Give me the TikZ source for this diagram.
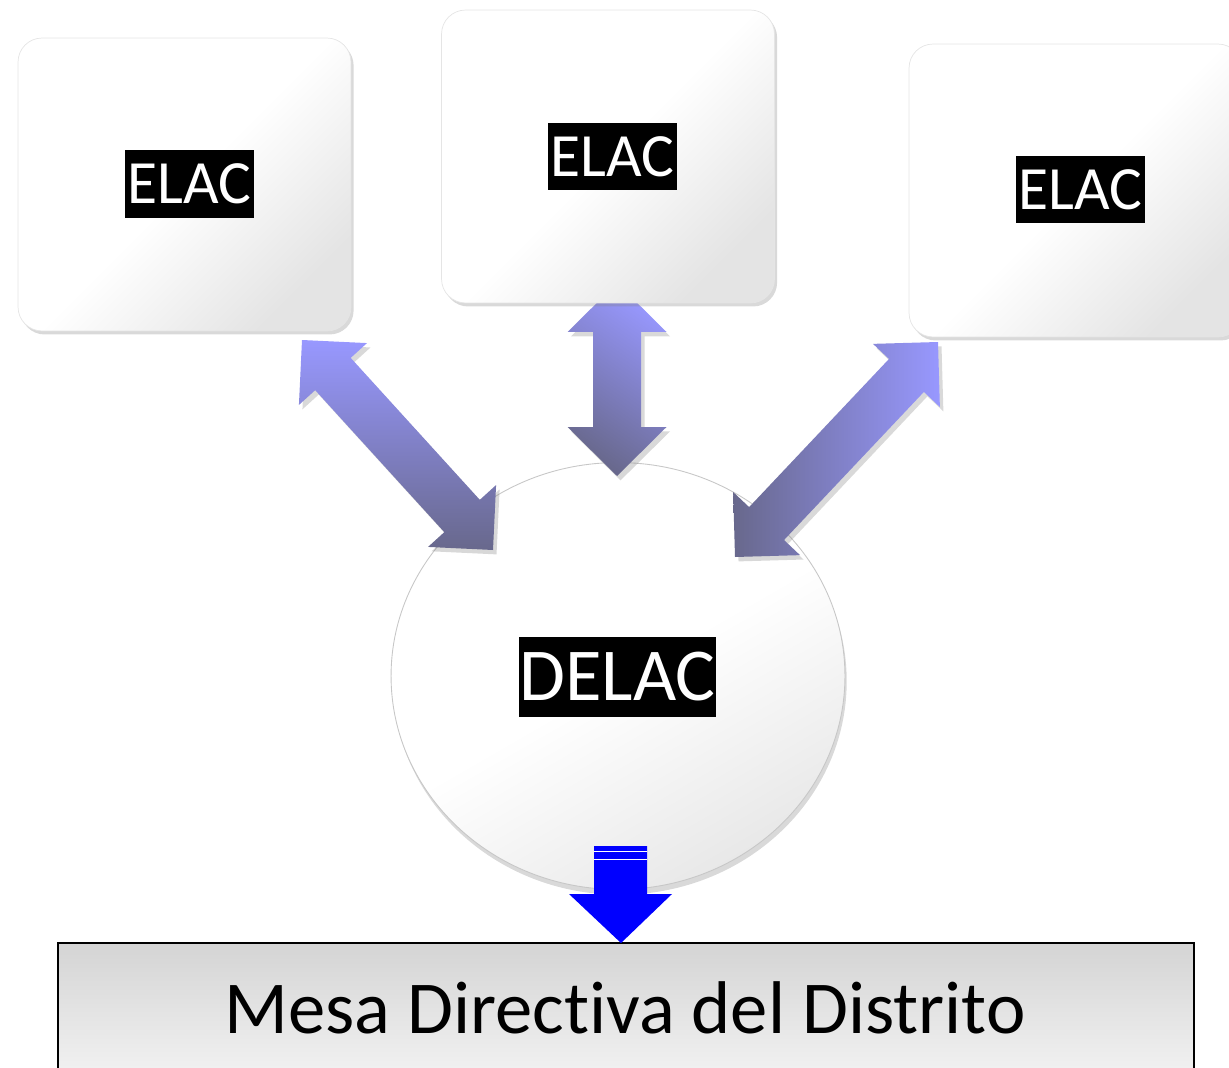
\documentclass[tikz,border=0pt]{standalone}
\usepackage{fontspec}
\setmainfont{Carlito}[Ligatures=CommonOff]
\usetikzlibrary{calc,shapes.geometric,shadows}
\definecolor{arLight}{RGB}{152,152,255}
\definecolor{arDark}{RGB}{104,104,140}
\definecolor{boxGray}{RGB}{228,228,228}
\definecolor{mesaTop}{RGB}{212,212,212}
\definecolor{mesaBot}{RGB}{248,248,248}
\newcommand\dblblock[6]{%
 \path[blockarrow, shading angle=#6] (#1)
 -- ($(#1)!#5!(#2)!#4!90:(#2)$)
 -- ($(#1)!#5!(#2)!#3!90:(#2)$)
 -- ($(#2)!#5!(#1)!#3!-90:(#1)$)
 -- ($(#2)!#5!(#1)!#4!-90:(#1)$)
 -- (#2)
 -- ($(#2)!#5!(#1)!#4!90:(#1)$)
 -- ($(#2)!#5!(#1)!#3!90:(#1)$)
 -- ($(#1)!#5!(#2)!#3!-90:(#2)$)
 -- ($(#1)!#5!(#2)!#4!-90:(#2)$)
 -- cycle;}
\tikzset{
 elacbox/.style={rectangle, rounded corners=0.48cm, minimum width=6.66cm, minimum height=5.86cm,
   inner sep=0pt, draw=black!10, line width=0.4pt, top color=white, bottom color=boxGray, middle color=white, shading angle=45,
   drop shadow={shadow xshift=1.5pt, shadow yshift=-2pt, opacity=0.3}},
 lbl/.style={fill=black, text=white, inner sep=0pt, font=\fontsize{35}{35}\selectfont,
   minimum width=2.58cm, minimum height=1.36cm},
 blockarrow/.style={top color=arLight, bottom color=arDark,
   drop shadow={shadow xshift=2pt, shadow yshift=-2.5pt, opacity=0.3}},
}
\begin{document}
\begin{tikzpicture}[x=0.02cm, y=-0.02cm]
\useasboundingbox (0,0) rectangle (1229,1067);
% bottom rectangle
\node[rectangle, draw=black, line width=1.1pt, top color=mesaTop, bottom color=mesaBot,
  minimum width=22.72cm, minimum height=3.2cm, inner sep=0pt] (mesa) at (626,1023) {};
\node[anchor=base, inner sep=0pt, font=\fontsize{42.5}{42.5}\selectfont] (mesaT) at (625,1033) {Mesa Directiva del Distrito};
% DELAC circle
\node[ellipse, draw=black!22, line width=0.5pt, minimum width=9.08cm, minimum height=8.54cm,
  inner sep=0pt, top color=white, bottom color=black!9, middle color=white, shading angle=30,
  drop shadow={shadow xshift=1pt, shadow yshift=-3pt, opacity=0.3}] (delac) at (618,676) {};
\node[lbl, font=\fontsize{42.5}{42.5}\selectfont, minimum width=3.94cm, minimum height=1.6cm] (delacT) at (617.5,677) {DELAC};
% double arrows
\coordinate (aL1) at (302,340);
\coordinate (aL2) at (493,550);
\coordinate (aM1) at (617,283);
\coordinate (aM2) at (617,476);
\coordinate (aR1) at (938,342);
\coordinate (aR2) at (735,557);
\dblblock{aL1}{aL2}{0.48cm}{0.92cm}{0.92cm}{0}
\dblblock{aM1}{aM2}{0.48cm}{0.99cm}{0.98cm}{-35}
\dblblock{aR1}{aR2}{0.48cm}{0.92cm}{0.92cm}{-90}
% ELAC boxes
\node[elacbox] (boxL) at (184.5,184.5) {};
\node[elacbox] (boxM) at (608,156.5) {};
\node[elacbox] (boxR) at (1075.5,190.5) {};
\node[lbl] (tL) at (189.5,184) {ELAC};
\node[lbl] (tM) at (612.5,156.5) {ELAC};
\node[lbl] (tR) at (1080.5,189.5) {ELAC};
% blue arrow
\coordinate (bA) at (621,846);
\coordinate (bB) at (621,943);
\fill[blue] ($(bA)+(-27,0)$) -- ($(bA)+(26,0)$) -- ($(bB)+(26,-49)$) -- ($(bB)+(51,-49)$) -- (bB)
  -- ($(bB)+(-52,-49)$) -- ($(bB)+(-27,-49)$) -- cycle;
\draw[white, line width=0.8pt] ($(bA)+(-27,5.5)$) -- ($(bA)+(26,5.5)$);
\draw[white, line width=0.8pt] ($(bA)+(-27,13.5)$) -- ($(bA)+(26,13.5)$);
\end{tikzpicture}
\end{document}
